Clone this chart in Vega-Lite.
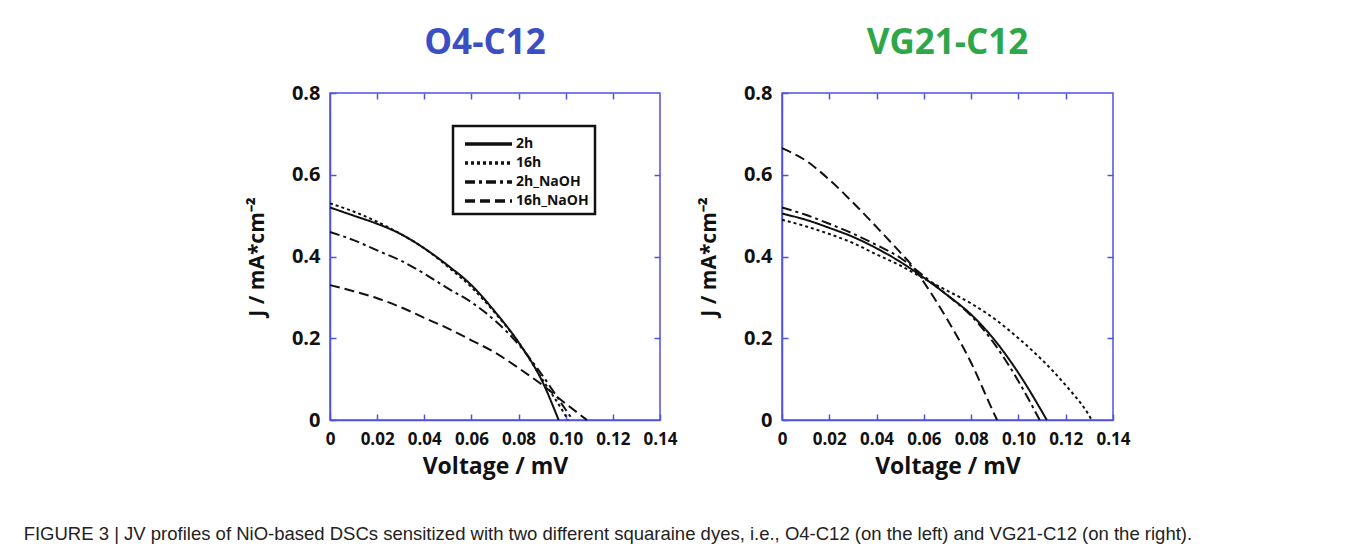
{
  "$schema": "https://vega.github.io/schema/vega-lite/v6.json",
  "background": "white",
  "padding": {"left": 23, "top": 25, "right": 5, "bottom": 5},
  "datasets": {
    "o4": [
      {"series": "2h", "voltage": 0, "current": 0.52},
      {"series": "2h", "voltage": 0.01, "current": 0.5},
      {"series": "2h", "voltage": 0.02, "current": 0.48},
      {"series": "2h", "voltage": 0.03, "current": 0.455},
      {"series": "2h", "voltage": 0.04, "current": 0.42},
      {"series": "2h", "voltage": 0.05, "current": 0.378},
      {"series": "2h", "voltage": 0.06, "current": 0.33},
      {"series": "2h", "voltage": 0.07, "current": 0.265},
      {"series": "2h", "voltage": 0.08, "current": 0.19},
      {"series": "2h", "voltage": 0.09, "current": 0.095},
      {"series": "2h", "voltage": 0.097, "current": 0},
      {"series": "16h", "voltage": 0, "current": 0.53},
      {"series": "16h", "voltage": 0.01, "current": 0.51},
      {"series": "16h", "voltage": 0.02, "current": 0.485},
      {"series": "16h", "voltage": 0.03, "current": 0.455},
      {"series": "16h", "voltage": 0.04, "current": 0.42},
      {"series": "16h", "voltage": 0.05, "current": 0.375},
      {"series": "16h", "voltage": 0.06, "current": 0.325},
      {"series": "16h", "voltage": 0.07, "current": 0.262},
      {"series": "16h", "voltage": 0.08, "current": 0.19},
      {"series": "16h", "voltage": 0.09, "current": 0.1},
      {"series": "16h", "voltage": 0.1, "current": 0.01},
      {"series": "16h", "voltage": 0.101, "current": 0},
      {"series": "2h_NaOH", "voltage": 0, "current": 0.46},
      {"series": "2h_NaOH", "voltage": 0.01, "current": 0.44},
      {"series": "2h_NaOH", "voltage": 0.02, "current": 0.415},
      {"series": "2h_NaOH", "voltage": 0.03, "current": 0.39},
      {"series": "2h_NaOH", "voltage": 0.04, "current": 0.358},
      {"series": "2h_NaOH", "voltage": 0.05, "current": 0.322},
      {"series": "2h_NaOH", "voltage": 0.06, "current": 0.288},
      {"series": "2h_NaOH", "voltage": 0.07, "current": 0.243},
      {"series": "2h_NaOH", "voltage": 0.08, "current": 0.185},
      {"series": "2h_NaOH", "voltage": 0.09, "current": 0.11},
      {"series": "2h_NaOH", "voltage": 0.1, "current": 0.025},
      {"series": "2h_NaOH", "voltage": 0.103, "current": 0},
      {"series": "16h_NaOH", "voltage": 0, "current": 0.33},
      {"series": "16h_NaOH", "voltage": 0.01, "current": 0.315},
      {"series": "16h_NaOH", "voltage": 0.02, "current": 0.298},
      {"series": "16h_NaOH", "voltage": 0.03, "current": 0.276},
      {"series": "16h_NaOH", "voltage": 0.04, "current": 0.25},
      {"series": "16h_NaOH", "voltage": 0.05, "current": 0.224},
      {"series": "16h_NaOH", "voltage": 0.06, "current": 0.195},
      {"series": "16h_NaOH", "voltage": 0.07, "current": 0.165},
      {"series": "16h_NaOH", "voltage": 0.08, "current": 0.127},
      {"series": "16h_NaOH", "voltage": 0.09, "current": 0.086},
      {"series": "16h_NaOH", "voltage": 0.1, "current": 0.04},
      {"series": "16h_NaOH", "voltage": 0.109, "current": 0}
    ],
    "vg21": [
      {"series": "2h", "voltage": 0, "current": 0.505},
      {"series": "2h", "voltage": 0.01, "current": 0.49},
      {"series": "2h", "voltage": 0.02, "current": 0.47},
      {"series": "2h", "voltage": 0.03, "current": 0.448},
      {"series": "2h", "voltage": 0.04, "current": 0.42},
      {"series": "2h", "voltage": 0.05, "current": 0.387},
      {"series": "2h", "voltage": 0.06, "current": 0.348},
      {"series": "2h", "voltage": 0.07, "current": 0.305},
      {"series": "2h", "voltage": 0.08, "current": 0.258},
      {"series": "2h", "voltage": 0.09, "current": 0.195},
      {"series": "2h", "voltage": 0.1, "current": 0.115},
      {"series": "2h", "voltage": 0.112, "current": 0},
      {"series": "16h", "voltage": 0, "current": 0.49},
      {"series": "16h", "voltage": 0.01, "current": 0.474},
      {"series": "16h", "voltage": 0.02, "current": 0.455},
      {"series": "16h", "voltage": 0.03, "current": 0.433},
      {"series": "16h", "voltage": 0.04, "current": 0.405},
      {"series": "16h", "voltage": 0.05, "current": 0.378},
      {"series": "16h", "voltage": 0.06, "current": 0.346},
      {"series": "16h", "voltage": 0.07, "current": 0.316},
      {"series": "16h", "voltage": 0.08, "current": 0.285},
      {"series": "16h", "voltage": 0.09, "current": 0.247},
      {"series": "16h", "voltage": 0.1, "current": 0.2},
      {"series": "16h", "voltage": 0.11, "current": 0.147},
      {"series": "16h", "voltage": 0.12, "current": 0.085},
      {"series": "16h", "voltage": 0.13, "current": 0.01},
      {"series": "16h", "voltage": 0.131, "current": 0},
      {"series": "2h_NaOH", "voltage": 0, "current": 0.52},
      {"series": "2h_NaOH", "voltage": 0.01, "current": 0.502},
      {"series": "2h_NaOH", "voltage": 0.02, "current": 0.48},
      {"series": "2h_NaOH", "voltage": 0.03, "current": 0.456},
      {"series": "2h_NaOH", "voltage": 0.04, "current": 0.428},
      {"series": "2h_NaOH", "voltage": 0.05, "current": 0.397},
      {"series": "2h_NaOH", "voltage": 0.06, "current": 0.352},
      {"series": "2h_NaOH", "voltage": 0.07, "current": 0.305},
      {"series": "2h_NaOH", "voltage": 0.08, "current": 0.255},
      {"series": "2h_NaOH", "voltage": 0.09, "current": 0.185},
      {"series": "2h_NaOH", "voltage": 0.1, "current": 0.095},
      {"series": "2h_NaOH", "voltage": 0.109, "current": 0},
      {"series": "16h_NaOH", "voltage": 0, "current": 0.665},
      {"series": "16h_NaOH", "voltage": 0.01, "current": 0.635},
      {"series": "16h_NaOH", "voltage": 0.02, "current": 0.588},
      {"series": "16h_NaOH", "voltage": 0.03, "current": 0.532},
      {"series": "16h_NaOH", "voltage": 0.04, "current": 0.472},
      {"series": "16h_NaOH", "voltage": 0.05, "current": 0.41},
      {"series": "16h_NaOH", "voltage": 0.055, "current": 0.378},
      {"series": "16h_NaOH", "voltage": 0.06, "current": 0.337},
      {"series": "16h_NaOH", "voltage": 0.07, "current": 0.245},
      {"series": "16h_NaOH", "voltage": 0.08, "current": 0.14},
      {"series": "16h_NaOH", "voltage": 0.09, "current": 0.012},
      {"series": "16h_NaOH", "voltage": 0.091, "current": 0}
    ]
  },
  "title": {
    "text": "FIGURE 3 | JV profiles of NiO-based DSCs sensitized with two different squaraine dyes, i.e., O4-C12 (on the left) and VG21-C12 (on the right).",
    "orient": "bottom",
    "anchor": "start",
    "baseline": "top",
    "offset": 46,
    "dx": -222,
    "font": "Liberation Sans",
    "fontSize": 18.5,
    "fontWeight": "normal",
    "color": "#222"
  },
  "hconcat": [
    {
      "width": 330,
      "height": 327,
      "data": {"name": "o4"},
      "title": {"text": "O4-C12", "color": "#3b4ec4", "fontSize": 35, "fontWeight": "bold", "baseline": "alphabetic", "offset": -6, "dx": -10},
      "layer": [
        {
          "mark": {"type": "line", "interpolate": "monotone", "color": "#111", "strokeWidth": 2},
          "encoding": {
            "x": {"field": "voltage", "type": "quantitative", "scale": {"domain": [0, 0.14], "nice": false},
              "axis": {"orient": "bottom", "values": [0, 0.02, 0.04, 0.06, 0.08, 0.1, 0.12, 0.14], "labelExpr": "datum.value === 0 ? '0' : format(datum.value, '.2f')", "title": "Voltage / mV", "labelFontSize": 17, "labelPadding": 17, "labelFlush": false, "titleFontSize": 23, "titlePadding": 8}},
            "y": {"field": "current", "type": "quantitative", "scale": {"domain": [0, 0.8], "nice": false},
              "axis": {"orient": "left", "values": [0, 0.2, 0.4, 0.6, 0.8], "labelExpr": "datum.value === 0 ? '0' : format(datum.value, '.1f')", "title": "J / mA*cm⁻²", "labelFontSize": 20, "labelPadding": 16, "labelFlush": false, "titleFontSize": 21, "titlePadding": 24}},
            "strokeDash": {"field": "series", "type": "nominal",
              "scale": {"domain": ["2h", "16h", "2h_NaOH", "16h_NaOH"], "range": [[1, 0], [3, 3], [10, 4, 3, 4], [10, 5]]},
              "legend": {"orient": "none", "legendX": 123, "legendY": 33, "title": null}}
          }
        },
        {
          "mark": {"type": "point", "opacity": 0},
          "encoding": {
            "x": {"field": "voltage", "type": "quantitative", "axis": {"orient": "top", "values": [0.02, 0.04, 0.06, 0.08, 0.1, 0.12], "labels": false, "title": null, "domain": false, "minExtent": 0, "maxExtent": 0}},
            "y": {"field": "current", "type": "quantitative", "axis": {"orient": "right", "values": [0.2, 0.4, 0.6], "labels": false, "title": null, "domain": false, "minExtent": 0, "maxExtent": 0}}
          }
        }
      ],
      "resolve": {"axis": {"x": "independent", "y": "independent"}}
    },
    {
      "width": 331,
      "height": 327,
      "data": {"name": "vg21"},
      "title": {"text": "VG21-C12", "color": "#2ea64a", "fontSize": 35, "fontWeight": "bold", "baseline": "alphabetic", "offset": -6},
      "layer": [
        {
          "mark": {"type": "line", "interpolate": "monotone", "color": "#111", "strokeWidth": 2},
          "encoding": {
            "x": {"field": "voltage", "type": "quantitative", "scale": {"domain": [0, 0.14], "nice": false},
              "axis": {"orient": "bottom", "values": [0, 0.02, 0.04, 0.06, 0.08, 0.1, 0.12, 0.14], "labelExpr": "datum.value === 0 ? '0' : format(datum.value, '.2f')", "title": "Voltage / mV", "labelFontSize": 17, "labelPadding": 17, "labelFlush": false, "titleFontSize": 23, "titlePadding": 8}},
            "y": {"field": "current", "type": "quantitative", "scale": {"domain": [0, 0.8], "nice": false},
              "axis": {"orient": "left", "values": [0, 0.2, 0.4, 0.6, 0.8], "labelExpr": "datum.value === 0 ? '0' : format(datum.value, '.1f')", "title": "J / mA*cm⁻²", "labelFontSize": 20, "labelPadding": 16, "labelFlush": false, "titleFontSize": 21, "titlePadding": 24}},
            "strokeDash": {"field": "series", "type": "nominal",
              "scale": {"domain": ["2h", "16h", "2h_NaOH", "16h_NaOH"], "range": [[1, 0], [3, 3], [10, 4, 3, 4], [10, 5]]},
              "legend": {"orient": "none", "legendX": 126, "legendY": 29, "title": null}}
          }
        },
        {
          "mark": {"type": "point", "opacity": 0},
          "encoding": {
            "x": {"field": "voltage", "type": "quantitative", "axis": {"orient": "top", "values": [0.02, 0.04, 0.06, 0.08, 0.1, 0.12], "labels": false, "title": null, "domain": false, "minExtent": 0, "maxExtent": 0}},
            "y": {"field": "current", "type": "quantitative", "axis": {"orient": "right", "values": [0.2, 0.4, 0.6], "labels": false, "title": null, "domain": false, "minExtent": 0, "maxExtent": 0}}
          }
        }
      ],
      "resolve": {"axis": {"x": "independent", "y": "independent"}}
    }
  ],
  "spacing": 122,
  "bounds": "flush",
  "config": {
    "font": "Open Sans",
    "view": {"stroke": "#5252e0", "strokeWidth": 1.5},
    "axis": {"domainColor": "#5252e0", "domainWidth": 1.5, "tickColor": "#5252e0", "tickWidth": 1.5, "tickSize": -6, "labelColor": "#111", "labelFont": "Open Sans", "labelFontWeight": "bold", "grid": false, "titleColor": "#111", "titleFont": "Open Sans", "titleFontWeight": "bold"},
    "legend": {"strokeColor": "#111", "strokeWidth": 2.5, "fillColor": "white", "padding": 6, "symbolType": "M-3.7,0H1", "symbolSize": 400, "symbolOffset": 31, "symbolStrokeWidth": 3.5, "symbolStrokeColor": "#111", "labelFont": "Open Sans", "labelFontWeight": "bold", "labelFontSize": 14, "labelColor": "#111", "labelOffset": 2, "rowPadding": 0}
  }
}
